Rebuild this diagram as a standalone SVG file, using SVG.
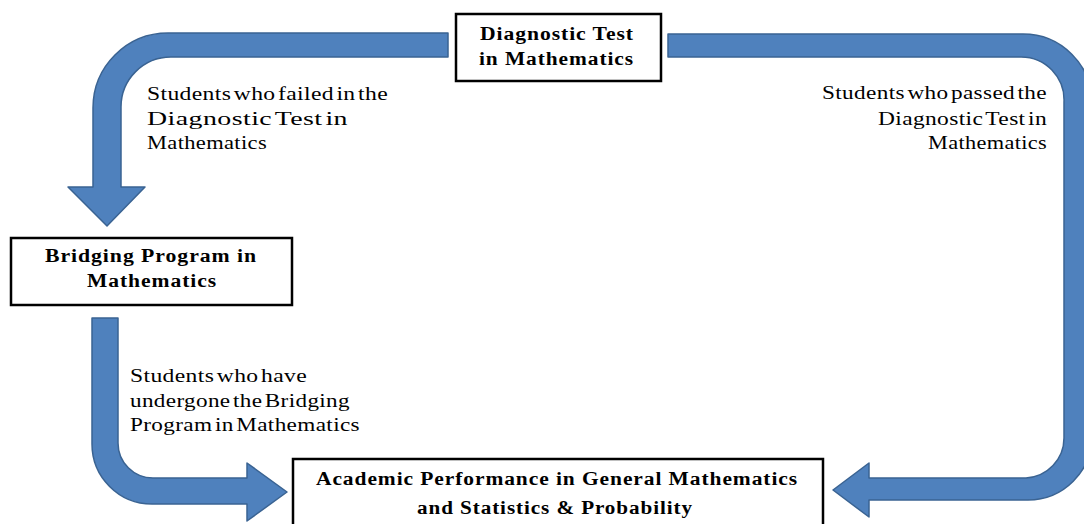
<svg xmlns="http://www.w3.org/2000/svg" width="1084" height="524" viewBox="0 0 1084 524">
  <style>
    .box { fill: #ffffff; stroke: #000000; stroke-width: 2.5; }
    .flow { fill: #4F81BD; stroke: #3A6392; stroke-width: 1.5; stroke-linejoin: round; }
    .title { font-family: "Liberation Serif", "Times New Roman", serif; font-weight: bold; font-size: 18.5px; fill: #000000; letter-spacing: 0.8px; }
    .note { font-family: "Liberation Serif", "Times New Roman", serif; font-size: 19px; fill: #000000; letter-spacing: 0.3px; word-spacing: -3px; }
  </style>
  <rect width="1084" height="524" fill="#ffffff"/>

  <!-- bent block arrows linking the stages -->
  <g id="connectors">
    <path class="flow" d="M448,33 L168,33 A75,75 0 0 0 93,108 L93,187 L68,187 L107,226 L145,187 L121,187 L121,107 A50,50 0 0 1 171,57 L448,57 Z"/>
    <path class="flow" d="M668,34 L1023,34 A69,69 0 0 1 1092,103 L1092,436 A64,64 0 0 1 1028,500 L869,500 L869,517 L833,490 L869,463 L869,478 L1026,478 A40,40 0 0 0 1064,438 L1064,102 A43,43 0 0 0 1021,57 L668,57 Z"/>
    <path class="flow" d="M92,318 L118,318 L118,443 A35,35 0 0 0 153,478 L247,478 L247,463 L287,492 L247,521 L247,504 L152,504 A60,60 0 0 1 92,444 Z"/>
  </g>

  <!-- path labels -->
  <g id="label-failed">
    <text class="note" x="147" y="100" textLength="241" lengthAdjust="spacingAndGlyphs">Students who failed in the</text>
    <text class="note" x="147" y="125" textLength="201" lengthAdjust="spacingAndGlyphs">Diagnostic Test in</text>
    <text class="note" x="147" y="149" textLength="120" lengthAdjust="spacingAndGlyphs">Mathematics</text>
  </g>
  <g id="label-passed">
    <text class="note" x="822" y="99" textLength="225" lengthAdjust="spacingAndGlyphs">Students who passed the</text>
    <text class="note" x="878" y="125" textLength="169" lengthAdjust="spacingAndGlyphs">Diagnostic Test in</text>
    <text class="note" x="928" y="149" textLength="119" lengthAdjust="spacingAndGlyphs">Mathematics</text>
  </g>
  <g id="label-bridged">
    <text class="note" x="130" y="382" textLength="177" lengthAdjust="spacingAndGlyphs">Students who have</text>
    <text class="note" x="130" y="407" textLength="220" lengthAdjust="spacingAndGlyphs">undergone the Bridging</text>
    <text class="note" x="130" y="431" textLength="230" lengthAdjust="spacingAndGlyphs">Program in Mathematics</text>
  </g>

  <!-- stage boxes -->
  <g id="diagnostic-test">
    <rect class="box" x="456" y="14" width="205" height="67"/>
    <text class="title" x="480" y="40" textLength="154" lengthAdjust="spacingAndGlyphs">Diagnostic Test</text>
    <text class="title" x="479" y="65" textLength="155" lengthAdjust="spacingAndGlyphs">in Mathematics</text>
  </g>
  <g id="bridging-program">
    <rect class="box" x="11" y="238" width="281" height="67"/>
    <text class="title" x="45" y="262" textLength="212" lengthAdjust="spacingAndGlyphs">Bridging Program in</text>
    <text class="title" x="87" y="287" textLength="130" lengthAdjust="spacingAndGlyphs">Mathematics</text>
  </g>
  <g id="academic-performance">
    <rect class="box" x="293" y="459" width="530" height="80"/>
    <text class="title" x="316" y="485" textLength="482" lengthAdjust="spacingAndGlyphs">Academic Performance in General Mathematics</text>
    <text class="title" x="417" y="514" textLength="276" lengthAdjust="spacingAndGlyphs">and Statistics &amp; Probability</text>
  </g>
</svg>
